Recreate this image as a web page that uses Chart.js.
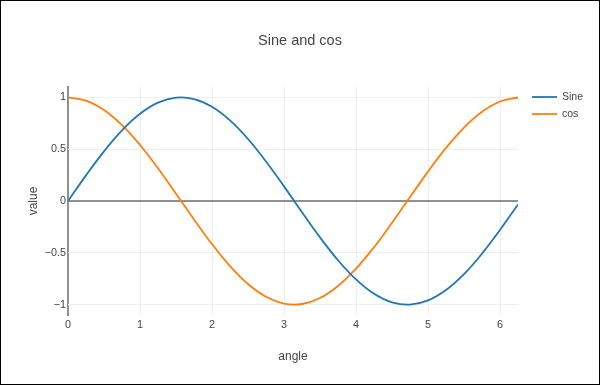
<!DOCTYPE html>
<html>
<head>
<meta charset="utf-8">
<script src="https://cdn.jsdelivr.net/npm/chart.js@4/dist/chart.umd.min.js"></script>
<style>
html,body{margin:0;padding:0;background:#fff;}
#wrap{width:600px;height:385px;position:relative;}
</style>
</head>
<body>
<div id="wrap"><canvas id="c" width="600" height="385"></canvas></div>
<script>
const angles = [0,0.25,0.5,0.75,1,1.25,1.5,1.75,2,2.25,2.5,2.75,3,3.25,3.5,3.75,4,4.25,4.5,4.75,5,5.25,5.5,5.75,6,6.25];
const sineValues = [0,0.2474,0.4794,0.6816,0.8415,0.9490,0.9975,0.9840,0.9093,0.7781,0.5985,0.3817,0.1411,-0.1082,-0.3508,-0.5716,-0.7568,-0.8950,-0.9775,-0.9993,-0.9589,-0.8589,-0.7055,-0.5083,-0.2794,-0.0332];
const cosValues = [1,0.9689,0.8776,0.7317,0.5403,0.3153,0.0707,-0.1782,-0.4161,-0.6282,-0.8011,-0.9243,-0.9900,-0.9941,-0.9365,-0.8206,-0.6536,-0.4461,-0.2108,0.0376,0.2837,0.5122,0.7087,0.8612,0.9602,0.9994];
const xTicks = [0,1,2,3,4,5,6];
const yTicks = [-1,-0.5,0,0.5,1];
const seriesNames = ['Sine','cos'];
const chartTitle = 'Sine and cos';
const xTitle = 'angle';
const yTitle = 'value';

const FONT = '"Liberation Sans", Arial, sans-serif';
const TXT = '#444';
const ZERO = '#909090';
const GRID = '#eeeeee';

const decorPlugin = {
  id: 'decor',
  beforeDraw(chart) {
    const ctx = chart.ctx;
    ctx.save();
    ctx.fillStyle = '#fff';
    ctx.fillRect(0, 0, chart.width, chart.height);
    ctx.restore();
  },
  afterDraw(chart) {
    const ctx = chart.ctx;
    ctx.save();
    ctx.font = '14.5px ' + FONT;
    ctx.fillStyle = TXT;
    ctx.textAlign = 'center';
    ctx.textBaseline = 'alphabetic';
    ctx.fillText(chartTitle, chart.width / 2, 44.5);
    ctx.font = '10.5px ' + FONT;
    ctx.textAlign = 'left';
    ctx.textBaseline = 'middle';
    chart.data.datasets.forEach((ds, i) => {
      const y = 97 + i * 17;
      ctx.strokeStyle = ds.borderColor;
      ctx.lineWidth = 1.8;
      ctx.beginPath();
      ctx.moveTo(532, y);
      ctx.lineTo(557, y);
      ctx.stroke();
      ctx.fillStyle = TXT;
      ctx.fillText(ds.label, 562, y);
    });
    ctx.strokeStyle = '#000';
    ctx.lineWidth = 1;
    ctx.strokeRect(0.5, 0.5, chart.width - 1, chart.height - 1);
    ctx.restore();
  }
};

new Chart(document.getElementById('c'), {
  type: 'line',
  data: {
    datasets: [
      { label: seriesNames[0], data: angles.map((a, i) => ({x: a, y: sineValues[i]})), borderColor: '#1f77b4', backgroundColor: '#1f77b4', borderWidth: 1.8, pointRadius: 0, tension: 0.4, fill: false },
      { label: seriesNames[1], data: angles.map((a, i) => ({x: a, y: cosValues[i]})), borderColor: '#ff7f0e', backgroundColor: '#ff7f0e', borderWidth: 1.8, pointRadius: 0, tension: 0.4, fill: false }
    ]
  },
  options: {
    responsive: false,
    animation: false,
    devicePixelRatio: 1,
    layout: { padding: { left: 0, right: 82, top: 86, bottom: 0 } },
    plugins: {
      legend: { display: false },
      tooltip: { enabled: false },
      title: { display: false }
    },
    scales: {
      x: {
        type: 'linear',
        min: 0,
        max: 6.25,
        afterBuildTicks(scale) { scale.ticks = xTicks.map(v => ({value: v})); },
        afterFit(scale) { scale.height = 69; },
        border: { display: false },
        grid: {
          drawTicks: false,
          color: ctx => (ctx.tick && ctx.tick.value === 0) ? ZERO : GRID,
          lineWidth: ctx => (ctx.tick && ctx.tick.value === 0) ? 2 : 1
        },
        ticks: {
          color: TXT,
          font: { family: FONT, size: 10.8 },
          padding: 2.5,
          maxRotation: 0,
          autoSkip: false,
          callback: v => String(v)
        },
        title: {
          display: true,
          text: xTitle,
          color: TXT,
          font: { family: FONT, size: 12 },
          padding: { top: 0, bottom: 21 }
        }
      },
      y: {
        type: 'linear',
        min: -1.11,
        max: 1.11,
        afterBuildTicks(scale) { scale.ticks = yTicks.map(v => ({value: v})); },
        afterFit(scale) { scale.width = 68; },
        border: { display: false },
        grid: {
          drawTicks: false,
          color: ctx => (ctx.tick && ctx.tick.value === 0) ? ZERO : GRID,
          lineWidth: ctx => (ctx.tick && ctx.tick.value === 0) ? 2 : 1
        },
        ticks: {
          color: TXT,
          font: { family: FONT, size: 10.8 },
          padding: 2,
          autoSkip: false,
          callback: v => (v < 0 ? '\u2212' + String(Math.abs(v)) : String(v))
        },
        title: {
          display: true,
          text: yTitle,
          color: TXT,
          font: { family: FONT, size: 12 },
          padding: { top: 26, bottom: 0 }
        }
      }
    }
  },
  plugins: [decorPlugin]
});
</script>
</body>
</html>
